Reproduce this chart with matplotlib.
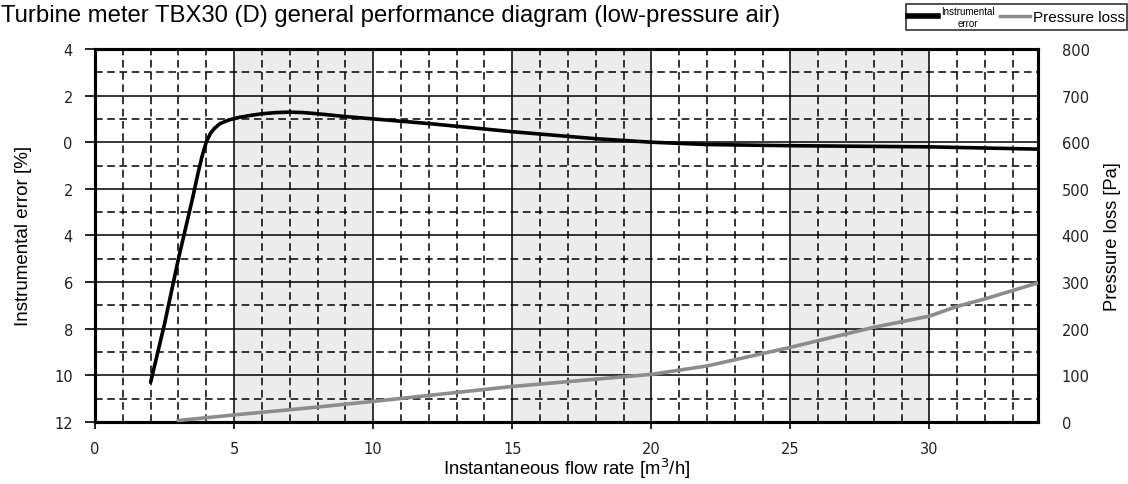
import numpy as np
import matplotlib
matplotlib.use('Agg')
import matplotlib.pyplot as plt
from matplotlib.ticker import FixedLocator
from matplotlib.lines import Line2D

# instrumental error curve [%]
err_x = [2, 2.5, 3, 3.5, 3.7, 3.85, 4.0, 4.15, 4.3, 4.5, 4.8, 5.2, 5.6, 6, 6.5, 7, 7.5, 8, 9, 10,
         12, 15, 18, 20, 22, 25, 28, 30, 32, 34]
err_y = [-10.3, -7.8, -5.0, -2.45, -1.35, -0.6, 0.0, 0.38, 0.6, 0.8, 0.95, 1.07, 1.15, 1.22, 1.27,
         1.29, 1.27, 1.22, 1.1, 1.0, 0.8, 0.45, 0.15, 0.0, -0.1, -0.15, -0.18, -0.2, -0.25, -0.3]

# pressure loss curve [Pa]
pl_x = [3, 5, 7.5, 10, 12.5, 15, 17.5, 20, 22, 25, 28, 30, 31, 32, 33, 34]
pl_y = [3, 15, 29, 44, 60, 76, 89, 102, 120, 160, 203, 227, 248, 264, 282, 300]

shade_spans = [(5, 10), (15, 20), (25, 30)]
left_ticks = [4, 2, 0, -2, -4, -6, -8, -10, -12]
left_labels = ['4', '2', '0', '2', '4', '6', '8', '10', '12']
right_ticks = [0, 100, 200, 300, 400, 500, 600, 700, 800]
x_ticks = [0, 5, 10, 15, 20, 25, 30]

plt.rcParams['font.family'] = ['Liberation Sans', 'DejaVu Sans']

fig = plt.figure(figsize=(11.28, 4.85), dpi=100)
ax = fig.add_axes([0.0842, 0.128, 0.836, 0.769])
ax2 = ax.twinx()

ax.set_xlim(0, 33.9)
ax.set_ylim(-12, 4)
ax2.set_ylim(0, 800)

for a, b in shade_spans:
    ax.axvspan(a, b, color='#ececec', zorder=0, lw=0)

# grid: solid every 5 / every 2, dashed in between
for xv in range(1, 34):
    if xv % 5 == 0:
        ax.axvline(xv, color='black', lw=1.1, zorder=1)
    else:
        ax.axvline(xv, color='black', lw=1.1, ls=(0, (5, 3)), zorder=1)
for yv in range(-11, 4):
    if yv % 2 == 0:
        ax.axhline(yv, color='black', lw=1.1, zorder=1)
    else:
        ax.axhline(yv, color='black', lw=1.1, ls=(0, (5, 3)), zorder=1)

ax.plot(err_x, err_y, color='black', lw=2.6, zorder=3, solid_capstyle='round',
        solid_joinstyle='round')
ax2.plot(pl_x, pl_y, color='#8c8c8c', lw=2.6, zorder=3, solid_joinstyle='round')

ax.yaxis.set_major_locator(FixedLocator(left_ticks))
ax.set_yticklabels(left_labels)
ax.xaxis.set_major_locator(FixedLocator(x_ticks))
ax2.yaxis.set_major_locator(FixedLocator(right_ticks))

ax.tick_params(axis='y', direction='out', length=7, width=1.2, labelsize=10.5, pad=9)
ax.tick_params(axis='x', direction='out', length=5, width=1.2, labelsize=10.5, pad=9)
ax2.tick_params(axis='y', length=0, labelsize=10.5, pad=17)
for lab in ax.get_xticklabels() + ax.get_yticklabels() + ax2.get_yticklabels():
    lab.set_family('DejaVu Sans')
    lab.set_color('#222222')

for sp in ax.spines.values():
    sp.set_linewidth(2.2)
for sp in ax2.spines.values():
    sp.set_linewidth(2.2)

ax.set_ylabel('Instrumental error [%]', fontsize=13.5)
ax.yaxis.set_label_coords(-0.067, 0.5)
ax2.set_ylabel('Pressure loss [Pa]', fontsize=13.2)
ax2.yaxis.set_label_coords(1.07, 0.5)
ax.set_xlabel('Instantaneous flow rate [m$^3$/h]', fontsize=13.3)
ax.xaxis.set_label_coords(0.5, -0.092)
ax.xaxis.label.set_va('top')

fig.text(0.001, 0.968, 'Turbine meter TBX30 (D) general performance diagram (low-pressure air)',
         fontsize=17.2, ha='left', va='center')

# legend box
handles = [Line2D([], [], color='black', lw=4),
           Line2D([], [], color='#8c8c8c', lw=2.5)]
leg = fig.legend(handles, ['Instrumental\nerror', 'Pressure loss'], loc='upper right',
                 bbox_to_anchor=(0.9995, 0.99), ncol=2, frameon=True, fancybox=False,
                 fontsize=11, handlelength=2.0, handletextpad=0.2, columnspacing=0.3,
                 borderpad=0.15, borderaxespad=0)
leg.get_frame().set_edgecolor('black')
leg.get_frame().set_linewidth(1.2)
leg.get_texts()[0].set_fontsize(7)
leg.get_texts()[0].set_ha('center')

fig.savefig('out.png', dpi=100)
